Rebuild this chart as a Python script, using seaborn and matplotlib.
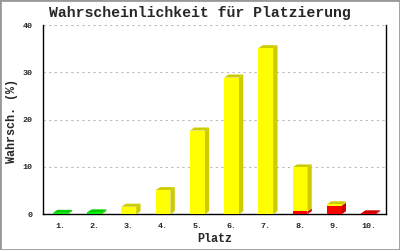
import numpy as np
import pandas as pd
import matplotlib
matplotlib.use("Agg")
import matplotlib.pyplot as plt
from matplotlib.patches import Polygon, Rectangle
import seaborn as sns

places = ["1.", "2.", "3.", "4.", "5.", "6.", "7.", "8.", "9.", "10."]
red_vals = [0.0, 0.0, 0.0, 0.0, 0.0, 0.0, 0.0, 0.6, 1.8, 0.2]
yellow_vals = [0.0, 0.1, 1.6, 5.1, 17.7, 28.9, 35.1, 9.3, 0.3, 0.0]
green_vals = [0.3, 0.3, 0.0, 0.0, 0.0, 0.0, 0.0, 0.0, 0.0, 0.0]
y_ticks = [0, 10, 20, 30, 40]

title = "Wahrscheinlichkeit für Platzierung"
xlabel = "Platz"
ylabel = "Wahrsch. (%)"

sns.set_style("white")
mono = ["Liberation Mono", "DejaVu Sans Mono"]
plt.rcParams["font.family"] = mono

fig = plt.figure(figsize=(4, 2.5), dpi=100)
ax = fig.add_axes([0.108, 0.143, 0.856, 0.757])

layers = [
    ("red", red_vals, "#ff0000", "#cc0000"),
    ("yellow", yellow_vals, "#ffff00", "#cccc00"),
    ("green", green_vals, "#00ee00", "#00cc00"),
]

df_base = pd.DataFrame({"Platz": places})
bottom = np.zeros(len(places))
segments = []
for name, vals, front, side in layers:
    vals = np.array(vals, dtype=float)
    d = df_base.copy()
    d["v"] = vals
    n_before = len(ax.patches)
    sns.barplot(data=d, x="Platz", y="v", color=front, saturation=1, width=0.43,
                bottom=bottom, ax=ax, linewidth=0, errorbar=None, zorder=3)
    new = ax.patches[n_before:]
    for p, v in zip(new, vals):
        if v > 0:
            segments.append((p, side))
    bottom = bottom + vals

ax.set_xlim(-0.5, 9.5)
ax.set_ylim(0, 40)

px_per_x = ax.bbox.width / 10.0
px_per_y = ax.bbox.height / 40.0
dx = 4.4 / px_per_x
dy = 3.0 / px_per_y

totals = bottom
for p, side in segments:
    x0 = p.get_x(); w = p.get_width(); y0 = p.get_y(); h = p.get_height()
    x1 = x0 + w; y1 = y0 + h
    sp = Polygon([(x1, y0), (x1 + dx, y0 + dy), (x1 + dx, y1 + dy), (x1, y1)],
                 closed=True, facecolor=side, edgecolor="none", zorder=2.9)
    ax.add_patch(sp)
    i = int(round(x0 + w / 2))
    if abs(y1 - totals[i]) < 1e-9:
        tp = Polygon([(x0, y1), (x0 + dx, y1 + dy), (x1 + dx, y1 + dy), (x1, y1)],
                     closed=True, facecolor=side, edgecolor="none", zorder=2.9)
        ax.add_patch(tp)

ax.set_yticks(y_ticks)
ax.set_yticklabels([str(t) for t in y_ticks], fontsize=6, family=mono, fontweight="bold")
ax.set_xticklabels(places, fontsize=6, family=mono, fontweight="bold")
ax.tick_params(axis="y", direction="inout", length=9, width=1, color="black", pad=3)
ax.tick_params(axis="x", length=0, pad=6)
ax.yaxis.grid(True, linestyle=(0, (2, 3)), color="#bbbbbb", linewidth=0.8, zorder=0)
ax.xaxis.grid(False)
ax.set_axisbelow(True)

for s in ["left", "bottom", "right"]:
    ax.spines[s].set_visible(True)
    ax.spines[s].set_color("black")
    ax.spines[s].set_linewidth(1)
ax.spines["top"].set_visible(False)

ax.set_xlabel("")
ax.set_ylabel("")
fig.text(214.5 / 400, 1 - 239.5 / 250, xlabel, ha="center", va="center",
         fontsize=8.5, fontweight="bold", family=mono)
fig.text(12.5 / 400, 1 - 121 / 250, ylabel, ha="center", va="center", rotation=90,
         fontsize=8.5, fontweight="bold", family=mono)
fig.text(0.4995, 0.947, title, ha="center", va="center", fontsize=10.7,
         fontweight="bold", family=mono)

fig.patches.append(Rectangle((0, 0), 1, 1, transform=fig.transFigure, fill=False,
                             edgecolor="#999999", linewidth=2, zorder=10))

fig.savefig("out.png", dpi=100)
